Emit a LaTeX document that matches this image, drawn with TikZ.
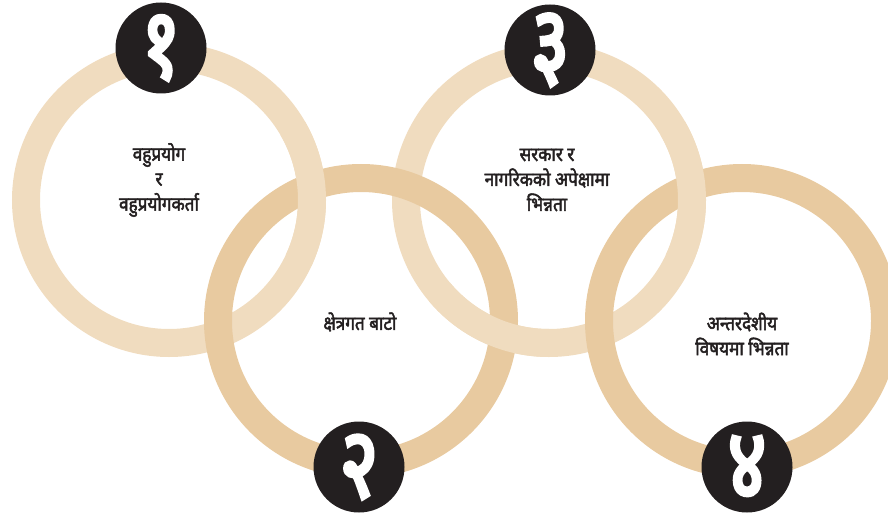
\documentclass[tikz,border=0pt]{standalone}
\usepackage{fontspec}
\newfontfamily\deva[Script=Devanagari, FakeBold=2.4, FakeStretch=0.88]{Noto Sans}
\newfontfamily\devadigit[Script=Devanagari, FakeBold=4, FakeStretch=0.74]{Noto Sans}
\definecolor{ringlight}{HTML}{F0DCBF}
\definecolor{ringdark}{HTML}{E8CAA0}
\definecolor{badgeblack}{HTML}{231F20}
\tikzset{
  lightring/.style={draw=ringlight, line width=28pt},
  darkring/.style={draw=ringdark, line width=28pt},
  badge/.style={circle, fill=badgeblack, minimum size=91pt, inner sep=0pt},
  digit/.style={inner sep=0pt, text=white, font=\devadigit\fontsize{98}{98}\selectfont},
  label/.style={align=center, text=badgeblack, font=\deva\fontsize{19.5}{25}\selectfont}
}
\begin{document}
\begin{tikzpicture}[x=1pt,y=1pt]
\useasboundingbox (0,0) rectangle (888,515);
\clip (0,0) rectangle (888,515);
\coordinate (c1) at (169,315);
\coordinate (c2) at (361,194);
\coordinate (c3) at (549,315);
\coordinate (c4) at (742,194);
% full rings
\draw[lightring] (c1) circle[radius=143];
\draw[lightring] (c3) circle[radius=143];
\draw[darkring] (c2) circle[radius=143];
\draw[darkring] (c4) circle[radius=143];
% interlacing overlays
\draw[lightring] (c1) ++(-25:143) arc[start angle=-25, end angle=30, radius=143];
\draw[lightring] (c3) ++(-25:143) arc[start angle=-25, end angle=30, radius=143];
\draw[lightring] (c3) ++(-140:143) arc[start angle=-140, end angle=-90, radius=143];
% badges
\node[badge] (b1) at (161,467) {};
\node[badge] (b2) at (359,48) {};
\node[badge] (b3) at (550,465) {};
\node[badge] (b4) at (747,48) {};
\node[digit] (d1) at (b1) {१};
\node[digit] (d2) at (b2) {२};
\node[digit] (d3) at (b3) {३};
\node[digit] (d4) at (b4) {४};
% labels
\node[label] (t1) at (159,335) {वहुप्रयोग\\र\\वहुप्रयोगकर्ता};
\node[label] (t3) at (547,335) {सरकार र\\नागरिकको अपेक्षामा\\भिन्नता};
\node[label] (t2) at (360,193) {क्षेत्रगत बाटो};
\node[label] (t4) at (742,181) {अन्तरदेशीय\\विषयमा भिन्नता};
\end{tikzpicture}
\end{document}
